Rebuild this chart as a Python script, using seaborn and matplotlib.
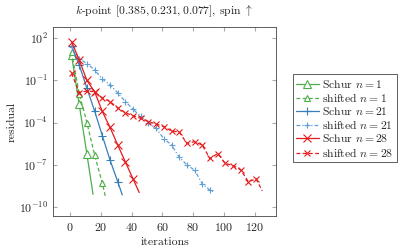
import matplotlib
matplotlib.use("Agg")
import matplotlib.pyplot as plt
import seaborn as sns
import numpy as np

sns.set_style("ticks")
plt.rcParams["font.family"] = "serif"
plt.rcParams["font.serif"] = ["cmr10"]
plt.rcParams["mathtext.fontset"] = "cm"
plt.rcParams["axes.formatter.use_mathtext"] = True

# iteration numbers and log10(residual)
schur_1_it = [1, 6, 11, 15]
schur_1_res = [0.8, -2.7, -6.25, -9.1]
shift_1_it = [1, 6, 11, 16, 21, 23]
shift_1_res = [1.0, -1.95, -4.0, -6.3, -8.3, -9.25]

schur_21_it = [1, 6, 11, 16, 21, 26, 31, 34]
schur_21_res = [1.45, 0.1, -1.55, -3.17, -4.92, -6.65, -8.19, -9.14]
shift_21_it = [1, 6, 11, 16, 21, 26, 31, 36, 41, 46, 51, 56, 61, 66, 71, 76,
               81, 86, 91, 93]
shift_21_res = [1.4, 0.55, 0.2, -0.25, -0.9, -1.3, -1.88, -2.5, -3.05, -3.55,
                -4.05, -4.4, -5.15, -5.58, -6.45, -7.0, -7.38, -8.35, -8.8, -8.9]

schur_28_it = [1, 6, 11, 16, 21, 26, 31, 36, 41, 45]
schur_28_res = [1.76, 0.46, -1.0, -1.8, -3.2, -4.33, -5.58, -6.8, -8.0, -8.97]
shift_28_it = [1, 6, 11, 16, 21, 26, 31, 36, 41, 46, 51, 56, 61, 66, 71, 76,
               81, 86, 91, 96, 101, 106, 111, 116, 121, 125]
shift_28_res = [-0.5, -1.86, -1.75, -1.8, -2.25, -2.5, -2.95, -3.3, -3.5,
                -3.7, -3.92, -4.1, -4.28, -4.6, -4.66, -5.48, -5.35, -5.6,
                -6.55, -6.2, -6.9, -7.05, -7.36, -8.2, -8.0, -8.85]

green = "#4daf4a"
blue = "#377eb8"
lblue = "#5f9fd8"
red = "#e41a1c"

series = [
    (schur_1_it, schur_1_res, "Schur $n = 1$", green, "-", "^"),
    (shift_1_it, shift_1_res, "shifted $n = 1$", green, (0, (3, 2)), "^"),
    (schur_21_it, schur_21_res, "Schur $n = 21$", blue, "-", "+"),
    (shift_21_it, shift_21_res, "shifted $n = 21$", lblue, (0, (3, 1.6, 1, 1.6)), "+"),
    (schur_28_it, schur_28_res, "Schur $n = 28$", red, "-", "x"),
    (shift_28_it, shift_28_res, "shifted $n = 28$", red, (0, (3, 2)), "x"),
]

fig = plt.figure(figsize=(3.99, 2.48), dpi=100)
ax = fig.add_axes([0.133, 0.129, 0.559, 0.762])

for it, res, label, color, ls, mk in series:
    n = len(it)
    shifted = label.startswith("shifted")
    sns.lineplot(x=it, y=10.0 ** np.array(res), ax=ax, color=color,
                 linestyle=ls, linewidth=0.9, marker=mk,
                 markevery=list(range(n - 1)),
                 markersize=(5 if shifted else 6),
                 markerfacecolor="white" if mk == "^" else color,
                 markeredgecolor=color,
                 markeredgewidth=0.8, label=label)

ax.set_yscale("log")
ax.set_xlim(-11, 134)
ax.set_ylim(10 ** -10.64, 10 ** 2.8)
ax.set_xticks([0, 20, 40, 60, 80, 100, 120])
ax.set_yticks([1e2, 1e-1, 1e-4, 1e-7, 1e-10])
ax.yaxis.set_minor_locator(matplotlib.ticker.NullLocator())
ax.tick_params(direction="in", top=True, right=True, labelsize=8.6,
               color="#aaaaaa", length=3)
for s in ax.spines.values():
    s.set_color("#444444")
    s.set_linewidth(0.6)

ax.set_xlabel("iterations", fontsize=8.5, labelpad=3)
ax.set_ylabel("residual", fontsize=8.5, labelpad=2)
ax.set_title(r"$k$-point $[0.385, 0.231, 0.077]$, spin $\uparrow$",
             fontsize=8.4, pad=9)

leg = ax.legend(loc="upper left", bbox_to_anchor=(1.075, 0.75), fontsize=8.4,
                frameon=True, fancybox=False, edgecolor="#444444",
                framealpha=1, handlelength=1.9, handletextpad=0.3,
                labelspacing=0.1, borderpad=0.3, borderaxespad=0)
leg.get_frame().set_linewidth(0.6)

fig.savefig("out.png", dpi=100)
